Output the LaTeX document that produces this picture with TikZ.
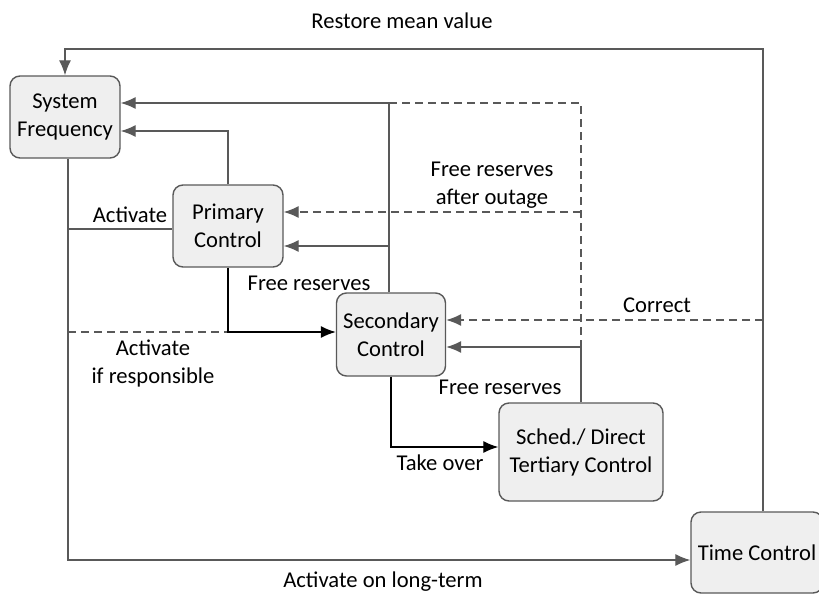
\documentclass[tikz,border=0pt]{standalone}
\usepackage{fontspec}
\setmainfont{Carlito}
\usetikzlibrary{arrows.meta,calc}
\definecolor{linegray}{HTML}{595959}
\definecolor{boxfill}{HTML}{EFEFEF}
\tikzset{>={Latex[length=7.5pt,width=6pt]}}
\tikzset{ctrlbox/.style={draw=linegray,fill=boxfill,line width=0.7pt,rounded corners=5pt,align=center,inner sep=1pt}}
\tikzset{flow/.style={draw=linegray,line width=0.65pt}}
\tikzset{flowdash/.style={flow,dash pattern=on 4pt off 2.5pt}}
\tikzset{flowblack/.style={draw=black,line width=0.65pt}}
\tikzset{lbl/.style={align=center,inner sep=0pt}}

\begin{document}
\begin{tikzpicture}[x=0.5pt,y=-0.5pt,font=\fontsize{11.3}{14}\selectfont]
  \useasboundingbox (0,0) rectangle (819,595);

  % Boxes
  \node[ctrlbox,minimum width=55pt,minimum height=41pt] (sysf) at (65,117) {System\\Frequency};
  \node[ctrlbox,minimum width=55pt,minimum height=41pt] (prim) at (228,226) {Primary\\Control};
  \node[ctrlbox,minimum width=54.5pt,minimum height=41.5pt] (sec) at (391,334.5) {Secondary\\Control};
  \node[ctrlbox,minimum width=82pt,minimum height=49pt] (tert) at (581,452) {Sched./ Direct\\Tertiary Control};
  \node[ctrlbox,minimum width=66pt,minimum height=40.5pt] (timec) at (757,552.5) {Time Control};

  % Vertices
  \coordinate (top) at (763,49);
  \coordinate (lt) at (68,560);
  \coordinate (act) at (68,229);
  \coordinate (resp) at (68,332);
  \coordinate (sctop) at (389,103);
  \coordinate (scmid) at (389,246);
  \coordinate (outtop) at (581,103);
  \coordinate (outmid) at (581,212);
  \coordinate (tcorner) at (581,347);
  \coordinate (corr) at (763,320);
  \coordinate (tkcorner) at (391,447);

  % Lines
  \draw[flow,->] (timec.north -| top) -- (top) -| (sysf.north);
  \draw[flow,->] (sysf.south -| lt) -- (lt) -- (lt -| timec.west);
  \draw[flow] (act) -- (act -| prim.west);
  \draw[flowdash] (resp) -- (resp -| prim.south);
  \draw[flowblack,->] (prim.south) -- (resp -| prim.south) -- (resp -| sec.west);
  \draw[flow,->] (prim.north) |- ($(sysf.east)+(0,14)$);
  \draw[flow,->] (sec.north -| sctop) -- (sctop) -- (sctop -| sysf.east);
  \draw[flow,->] (scmid) -- (scmid -| prim.east);
  \draw[flowdash] (sctop) -- (outtop) -- (tcorner);
  \draw[flowdash,->] (outmid) -- (outmid -| prim.east);
  \draw[flow,->] (tert.north) -- (tcorner) -- (tcorner -| sec.east);
  \draw[flowdash,->] (corr) -- (corr -| sec.east);
  \draw[flowblack,->] (sec.south) -- (tkcorner) -- (tkcorner -| tert.west);

  % Labels
  \node[lbl] (restore) at (402,21) {Restore mean value};
  \node[lbl] (activ) at (130,215) {Activate};
  \node[lbl] (outage) at (492,185) {Free reserves\\after outage};
  \node[lbl] (freeup) at (309,283) {Free reserves};
  \node[lbl] (corlbl) at (657,305) {Correct};
  \node[lbl] (resplbl) at (153,363.5) {Activate\\if responsible};
  \node[lbl] (freelow) at (500,387) {Free reserves};
  \node[lbl] (takeover) at (440,463) {Take over};
  \node[lbl] (longterm) at (383,582) {Activate on long-term};
\end{tikzpicture}
\end{document}
